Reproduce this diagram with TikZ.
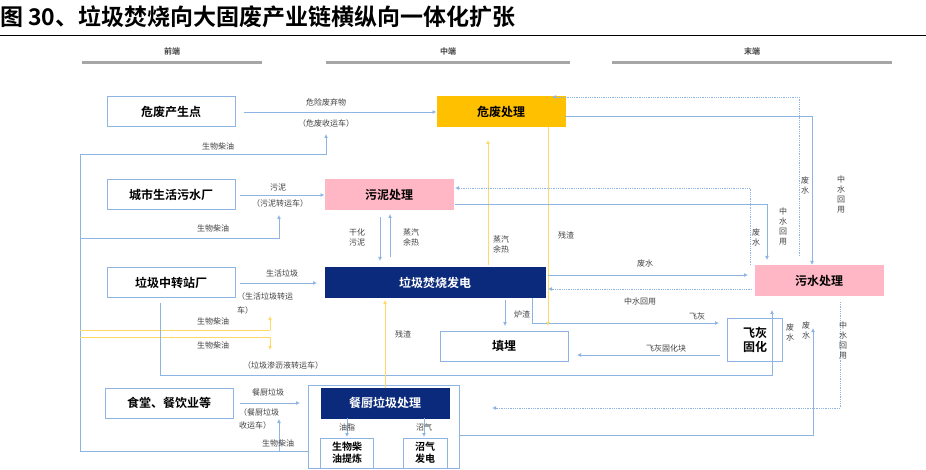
\documentclass[tikz,border=0pt]{standalone}
\usepackage{fontspec}
\setmainfont{Noto Sans CJK SC}[BoldFont={Noto Sans CJK SC Bold}]
\usetikzlibrary{arrows.meta}
\definecolor{ln}{HTML}{8DB4E2}
\definecolor{org}{HTML}{FFC000}
\definecolor{orl}{HTML}{FFD966}
\definecolor{navy}{HTML}{0B2A7C}
\definecolor{pnk}{HTML}{FFB7C5}
\definecolor{lbl}{HTML}{404040}
\tikzset{
 box/.style={draw=ln,line width=1pt,minimum height=30pt,inner sep=1pt,font=\bfseries\fontsize{12}{14}\selectfont},
 wbox/.style={box,fill=white,minimum width=128pt},
 lb/.style={font=\fontsize{8}{10}\selectfont,text=lbl,inner sep=1pt,align=center},
 bl/.style={draw=ln,line width=0.8pt,-{Latex[length=4pt,width=4pt]}},
 bn/.style={draw=ln,line width=0.8pt},
 dl/.style={draw=ln,line width=0.8pt,densely dotted,-{Latex[length=4pt,width=4pt]}},
 ol/.style={draw=orl,line width=0.8pt,-{Latex[length=4pt,width=4pt]}},
 on/.style={draw=orl,line width=0.8pt},
 hdr/.style={font=\bfseries\fontsize{8}{10}\selectfont,text=lbl},
}
\begin{document}
\begin{tikzpicture}[x=1pt,y=-1pt]
\useasboundingbox (0,0) rectangle (926,470);
\node[anchor=west,font=\bfseries\fontsize{23}{25}\selectfont,inner sep=0pt] (title) at (0,17) {图 30、垃圾焚烧向大固废产业链横纵向一体化扩张};
\draw[line width=1pt] (0,36) coordinate (t1) -- (926,36) coordinate (t2);
% headers
\fill[gray!70] (82,61) rectangle (262,64);
\fill[gray!70] (326,61) rectangle (570,64);
\fill[gray!70] (612,61) rectangle (892,64);
\node[hdr] (h1) at (172,51) {前端};
\node[hdr] (h2) at (448,51) {中端};
\node[hdr] (h3) at (752,51) {末端};
% boxes
\node[wbox] (wfs) at (171,112) {危废产生点};
\node[box,fill=org,draw=org,minimum width=128pt] (wfc) at (501,112) {危废处理};
\node[wbox] (wsc) at (171,195) {城市生活污水厂};
\node[box,fill=pnk,draw=pnk,minimum width=128pt] (wnc) at (389,195) {污泥处理};
\node[wbox] (zz) at (171,283) {垃圾中转站厂};
\node[box,fill=navy,draw=navy,text=white,minimum width=220pt] (fs) at (435,283) {垃圾焚烧发电};
\node[box,fill=pnk,draw=pnk,minimum width=128pt] (ws) at (819,281) {污水处理};
\node[wbox] (tm) at (504,346) {填埋};
\node[box,fill=white,minimum width=55pt,minimum height=43pt,align=center] (fh) at (755,340) {飞灰\\固化};
\node[wbox] (st) at (169,403) {食堂、餐饮业等};
\draw[ln,line width=1pt] (308,385) rectangle (459,468);
\coordinate (ob) at (459,435);
\node[box,fill=navy,draw=navy,text=white,minimum width=128pt] (cc) at (385,403) {餐厨垃圾处理};
\node[box,fill=white,minimum width=53pt,minimum height=30pt,align=center,font=\bfseries\fontsize{10}{12}\selectfont] (sw) at (347,453) {生物柴\\油提炼};
\node[box,fill=white,minimum width=44pt,minimum height=30pt,align=center,font=\bfseries\fontsize{10}{12}\selectfont] (zq) at (425,453) {沼气\\发电};
% left side
\draw[bn] (80,154) -- (80,451);
\draw[bl] (80,154) -- (326,154) -- (326,134);
\node[lb] at (218,146) {生物柴油};
\draw[bl] (wfs.east)++(8,0) -- (wfc.west);
\node[lb] at (326,102) {危险废弃物};
\node[lb] at (326,123) {（危废收运车）};
\draw[bl] (wsc.east)++(4,0) -- (wnc.west);
\node[lb] at (278,188) {污泥};
\node[lb] at (280,203) {（污泥转运车）};
\draw[bl] (80,238) -- (279,238) -- (279,215);
\node[lb] at (213,228) {生物柴油};
\draw[bl] (380,217) -- (380,261);
\node[lb] at (357,237) {干化\\污泥};
\draw[bl] (390,257) -- (390,214);
\node[lb] at (411,237) {蒸汽\\余热};
\draw[bl] (240,283) -- (317,283);
\node[lb] at (282,273) {生活垃圾};
\node[lb,anchor=west] at (236,296) {（生活垃圾转运};
\node[lb,anchor=west] at (236,310) {车）};
\draw[on] (80,330) -- (270,330); \draw[ol] (270,330) -- (270,316);
\node[lb] at (213,321) {生物柴油};
\draw[on] (80,337) -- (270,337); \draw[ol] (270,337) -- (270,350);
\node[lb] at (213,345) {生物柴油};
\node[lb] at (283,365) {（垃圾渗沥液转运车）};
\draw[bl] (160,303) -- (160,375) -- (772,375) -- (772,310);
\node[lb] at (790,332) {废\\水};
\draw[bl] (240,403) -- (300,403);
\node[lb] at (268,392) {餐厨垃圾};
\node[lb,anchor=west] at (238,412) {（餐厨垃圾};
\node[lb,anchor=west] at (238,425) {收运车）};
\draw[bn] (80,451) -- (308,451);
\draw[bl] (279,451) -- (279,419);
\node[lb] at (278,443) {生物柴油};
\draw[ol] (385,388) -- (385,300);
\node[lb] at (403,334) {残渣};
\draw[bl] (347,418) -- (347,437);
\node[lb] at (347,427) {油脂};
\draw[bl] (424,418) -- (424,437);
\node[lb] at (424,427) {沼气};
\draw[bl] (ob) -- (813,435) -- (813,328);
\node[lb] at (806,330) {废\\水};
\draw[dl] (840,302) -- (840,408) -- (492,408);
\node[lb] at (843,340) {中\\水\\回\\用};
% middle/right
\draw[bl] (720,355) -- (577,355);
\node[lb] at (666,348) {飞灰固化块};
\draw[bl] (532,298) -- (532,323) -- (719,323);
\node[lb] at (697,316) {飞灰};
\draw[bl] (505,300) -- (505,326);
\node[lb] at (522,314) {炉渣};
\draw[ol] (548,127) -- (548,326);
\node[lb] at (566,235) {残渣};
\draw[ol] (488,265) -- (488,140);
\node[lb] at (501,244) {蒸汽\\余热};
\draw[bl] (548,275) -- (748,275);
\node[lb] at (645,263) {废水};
\draw[dl] (752,289) -- (548,289);
\node[lb] at (640,301) {中水回用};
\draw[bl] (455,204) -- (767,204) -- (767,260);
\node[lb] at (756,237) {废\\水};
\draw[dl] (750,265) -- (750,188) -- (455,188);
\node[lb] at (783,226) {中\\水\\回\\用};
\draw[bl] (565,116) -- (812,116) -- (812,265);
\node[lb] at (841,194) {中\\水\\回\\用};
\draw[dl] (799,256) -- (799,97) -- (552,97);
\node[lb] at (805,185) {废\\水};
\end{tikzpicture}
\end{document}
